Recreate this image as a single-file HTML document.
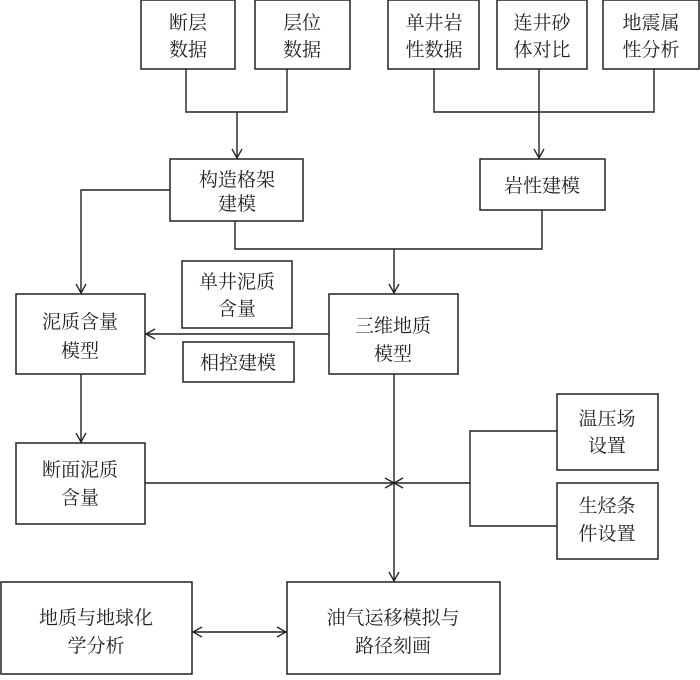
<!DOCTYPE html>
<html><head><meta charset="utf-8"><style>
html,body{margin:0;padding:0;background:#fff;}
svg text{font-family:"Liberation Serif","Noto Serif CJK SC","Noto Sans CJK SC",serif;font-size:19px;fill:#222;text-anchor:middle;}
</style></head><body>
<svg width="700" height="675" viewBox="0 0 700 675" xmlns="http://www.w3.org/2000/svg">
<defs><marker id="a" markerWidth="12" markerHeight="12" refX="10" refY="6" orient="auto" markerUnits="userSpaceOnUse"><path d="M1,1 L10,6 L1,11" fill="none" stroke="#222" stroke-width="1.3"/></marker>
<marker id="b" markerWidth="12" markerHeight="12" refX="2" refY="6" orient="auto" markerUnits="userSpaceOnUse"><path d="M11,1 L2,6 L11,11" fill="none" stroke="#222" stroke-width="1.3"/></marker></defs>
<g fill="#fff" stroke="#222" stroke-width="1.5">
<rect x="141" y="0" width="94" height="69"/>
<rect x="255" y="0" width="95" height="69"/>
<rect x="388" y="0" width="91" height="69"/>
<rect x="497" y="0" width="90" height="69"/>
<rect x="603" y="0" width="96" height="69"/>
<rect x="170" y="159" width="133" height="62"/>
<rect x="480" y="159" width="125" height="51"/>
<rect x="182" y="261" width="110" height="67"/>
<rect x="16" y="294" width="129" height="80"/>
<rect x="329" y="294" width="129" height="80"/>
<rect x="183" y="342" width="111" height="40"/>
<rect x="16" y="443" width="129" height="81"/>
<rect x="557" y="394" width="101" height="76"/>
<rect x="557" y="483" width="101" height="76"/>
<rect x="1" y="582" width="191" height="92"/>
<rect x="287" y="582" width="213" height="92"/>
</g>
<g fill="none" stroke="#222" stroke-width="1.4">
<path d="M186,69 V112 H287 V69"/>
<path d="M237,112 V158" marker-end="url(#a)"/>
<path d="M434,69 V112 H654 V69"/>
<path d="M539,69 V158" marker-end="url(#a)"/>
<path d="M235,221 V249 H542 V210"/>
<path d="M394,249 V293" marker-end="url(#a)"/>
<path d="M170,190 H81 V293" marker-end="url(#a)"/>
<path d="M329,334 H146" marker-end="url(#a)"/>
<path d="M81,374 V442" marker-end="url(#a)"/>
<path d="M145,483 H394" marker-end="url(#a)"/>
<path d="M470,483 H394" marker-end="url(#a)"/>
<path d="M557,431 H470 V526 H557"/>
<path d="M394,374 V581" marker-end="url(#a)"/>
<path d="M193,632 H286" marker-start="url(#b)" marker-end="url(#a)"/>
</g>
<text x="188" y="29">断层</text><text x="188" y="56">数据</text>
<text x="302" y="29">层位</text><text x="302" y="56">数据</text>
<text x="434" y="29">单井岩</text><text x="434" y="56">性数据</text>
<text x="542" y="29">连井砂</text><text x="542" y="56">体对比</text>
<text x="651" y="29">地震属</text><text x="651" y="56">性分析</text>
<text x="237" y="186">构造格架</text><text x="237" y="210">建模</text>
<text x="542" y="192">岩性建模</text>
<text x="237" y="288">单井泥质</text><text x="237" y="315">含量</text>
<text x="80" y="328">泥质含量</text><text x="80" y="357">模型</text>
<text x="393" y="332">三维地质</text><text x="393" y="360">模型</text>
<text x="238" y="369">相控建模</text>
<text x="80" y="476">断面泥质</text><text x="80" y="504">含量</text>
<text x="607" y="425">温压场</text><text x="607" y="452">设置</text>
<text x="607" y="512">生烃条</text><text x="607" y="540">件设置</text>
<text x="96" y="624">地质与地球化</text><text x="96" y="652">学分析</text>
<text x="393" y="624">油气运移模拟与</text><text x="393" y="652">路径刻画</text>
</svg>
</body></html>
